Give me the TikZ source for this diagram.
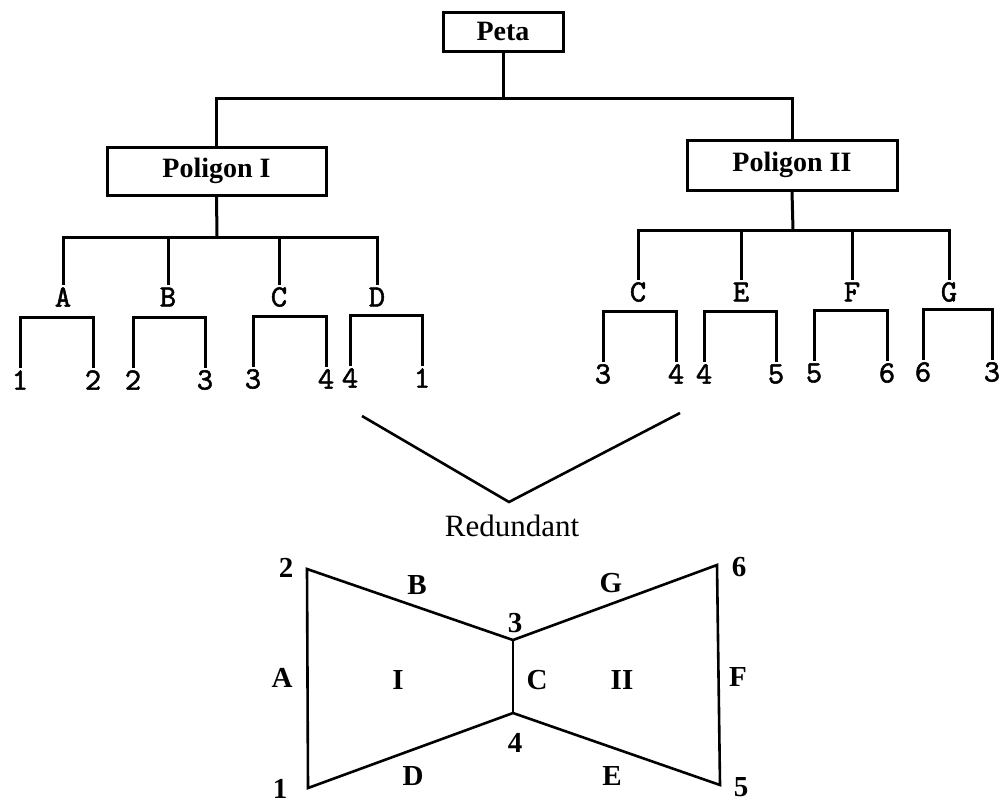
\documentclass[tikz,border=0pt]{standalone}
\usepackage{fontspec}
\setmainfont{Liberation Serif}
\newfontfamily\lblfont{lmmono10-regular.otf}[FakeBold=1.6]
\tikzset{
  box/.style={draw, line width=3pt, inner sep=0pt,
    font=\fontsize{28}{32}\selectfont\bfseries},
  lbl/.style={inner sep=1pt, font=\fontsize{31}{34}\selectfont\lblfont},
  tag/.style={inner sep=0pt, font=\fontsize{29}{32}\selectfont},
  mark2/.style={inner sep=0pt, font=\fontsize{29}{32}\selectfont\bfseries}
}

\begin{document}
\begin{tikzpicture}[x=1pt,y=-1pt,line width=3pt]
  \useasboundingbox (0,0) rectangle (1000,804);

  % tree
  \node[box, minimum width=120pt, minimum height=39pt] (peta) at (503,31.5) {Peta};
  \node[box, minimum width=219pt, minimum height=48pt] (pol1) at (216.5,171) {Poligon I};
  \node[box, minimum width=210pt, minimum height=50pt] (pol2) at (792,165) {Poligon II};
  \coordinate (j0) at (503,98);
  \coordinate (j1) at (217,237);
  \coordinate (j2) at (793,230);
  \draw (peta.south) -- (j0);
  \draw (pol1.north) |- (j0) -| (pol2.north);

  \foreach \nm/\t/\x/\y in {la/A/63/297, lb/B/168/297, lc/C/279/297, ld/D/377/297,
      mc/C/638/292, me/E/741/292, mf/F/852/292, mg/G/949/292}
    \node[lbl] (\nm) at (\x,\y) {\t};

  \draw (pol1.south) -- (j1);
  \draw (la.north) |- (j1) -| (ld.north);
  \draw (lb.north) -- (lb.north |- j1);
  \draw (lc.north) -- (lc.north |- j1);
  \draw (pol2.south) -- (j2);
  \draw (mc.north) |- (j2) -| (mg.north);
  \draw (me.north) -- (me.north |- j2);
  \draw (mf.north) -- (mf.north |- j2);

  % edge ends
  \foreach \nm/\xa/\xb/\ya/\p/\q in {a/20/93/317/1/2, b/133/205/317/2/3,
      c/253/326/316/3/4, d/350/422/315/4/1, k/603/676/311/3/4,
      e/704/776/311/4/5, f/814/887/310/5/6, g/923/992/309/6/3}{
    \node[lbl] (\nm1) at (\xa,\ya+63) {\p};
    \node[lbl] (\nm2) at (\xb,\ya+63) {\q};
    \draw (\nm1.north) |- (\xa,\ya) -| (\nm2.north);
  }

  % redundant
  \coordinate (vl) at (362,416);
  \coordinate (vm) at (509,502);
  \coordinate (vr) at (680,413);
  \draw[line width=2.6pt] (vl) -- (vm) -- (vr);
  \node[tag, font=\fontsize{31}{34}\selectfont] (red) at (512,526) {Redundant};

  % map
  \coordinate (v1) at (308,788);
  \coordinate (v2) at (307,569);
  \coordinate (v3) at (513,640);
  \coordinate (v4) at (513,713);
  \coordinate (v5) at (720,785);
  \coordinate (v6) at (717,565);
  \draw[line width=2.6pt] (v2) -- (v3) -- (v6) -- (v5) -- (v4) -- (v1) -- cycle;
  \draw[line width=2.6pt] (v3) -- (v4);

  \foreach \nm/\t/\x/\y in {p1/1/280/789, p2/2/286/568, p3/3/515/623, p4/4/515/743,
      p5/5/741/787, p6/6/739/567, eA/A/282/678, eB/B/417/585, eC/C/537/680,
      eD/D/413/776, eE/E/612/776, eF/F/738/677, eG/G/611/583,
      rI/I/398/680, rII/II/622/680}
    \node[mark2] (\nm) at (\x,\y) {\t};
\end{tikzpicture}
\end{document}
